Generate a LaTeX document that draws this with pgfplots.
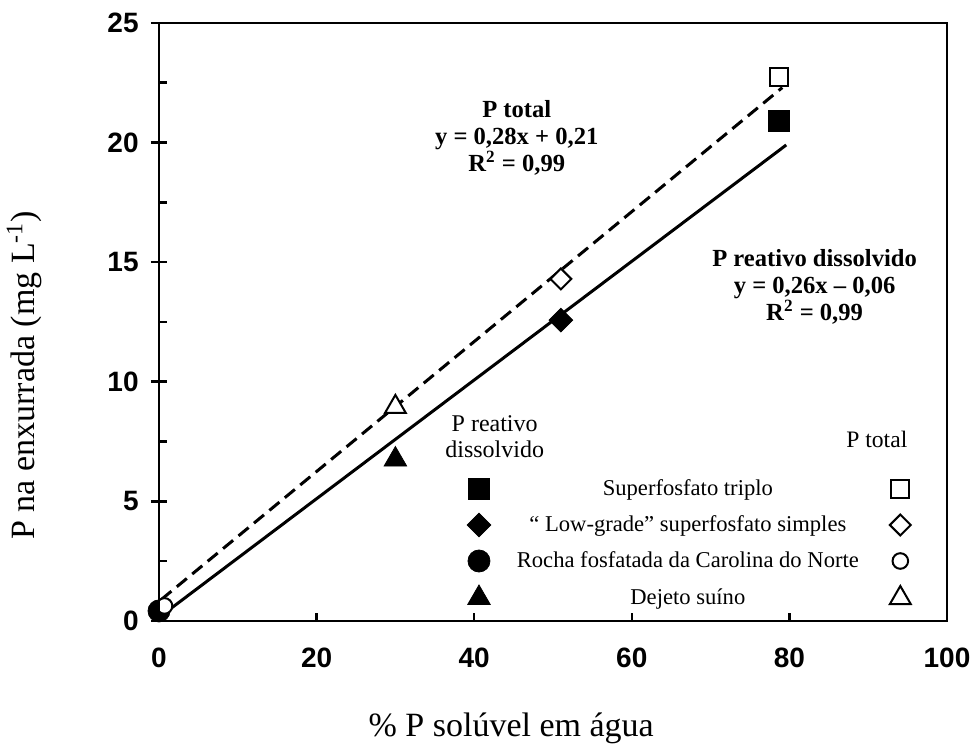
\documentclass[border=0pt]{standalone}
\usepackage{fontspec}
\setmainfont{Liberation Serif}
\setsansfont{Liberation Sans}
\usepackage{pgfplots}
\pgfplotsset{compat=1.18}
\begin{document}
\begin{tikzpicture}
\begin{axis}[
 scale only axis, width=394pt, height=299pt,
 at={(0,0)}, anchor=south west,
 xmin=0, xmax=100, ymin=0, ymax=25,
 xtick={0,20,...,100}, ytick={0,5,...,25},
 minor y tick num=1,
 tick pos=left,
 tick align=inside,
 major tick length=4pt, minor tick length=4pt,
 axis line style={line width=1.35pt},
 tick style={draw=black, line width=1.3pt},
 /pgf/number format/assume math mode=true,
 ticklabel style={font=\sffamily\bfseries\fontsize{14}{16}\selectfont, inner sep=0pt},
 xticklabel style={anchor=base, yshift=-23.5pt},
 yticklabel style={anchor=east, xshift=-10pt},
 xlabel={\% P solúvel em água},
 ylabel={P na enxurrada (mg L\textsuperscript{-1})},
 every axis x label/.style={at={([yshift=-58pt]axis description cs:0.447,0)}, anchor=base, font=\fontsize{17}{19}\selectfont},
 every axis y label/.style={at={([xshift=-62pt]axis description cs:0,0.411)}, rotate=90, anchor=base, font=\fontsize{17}{19}\selectfont},
 legend columns=2,
 legend style={draw=none, fill=none, inner sep=0pt, outer sep=0pt,
   at={(axis cs:39.1,6.02)}, anchor=north west, column sep=0pt, row sep=6pt,
   font=\fontsize{11.3}{13}\selectfont,
   nodes={inner sep=0pt, text height=9pt, text depth=3pt}},
 legend image code/.code={\draw[#1] plot coordinates {(0pt,0pt)};},
]
% trend lines
\addplot[forget plot, line width=1.5pt, black] coordinates {(0.2,0.2) (79.6,19.9)};
\addplot[forget plot, line width=1.5pt, black, dash pattern=on 6.5pt off 3.5pt] coordinates {(0.3,0.9) (79.1,22.3)};
% Superfosfato triplo
\addplot[only marks, mark=square*, mark size=5.3pt, mark options={solid, fill=black, draw=black, line width=0.4pt}] coordinates {(78.7,20.9)};
\addlegendentry{\hspace*{13pt}\makebox[171pt][c]{Superfosfato triplo}\hspace*{15.5pt}}
\addplot[only marks, mark=square*, mark size=4.5pt, mark options={solid, fill=white, draw=black, line width=1pt}] coordinates {(78.7,22.76)};
\addlegendentry{}
% Low-grade
\addplot[only marks, mark=square*, mark size=4.2pt, mark options={solid, rotate=45, fill=black, draw=black, line width=0.4pt}] coordinates {(51.0,12.58)};
\addlegendentry{\hspace*{13pt}\makebox[171pt][c]{“ Low-grade” superfosfato simples}\hspace*{15.5pt}}
\addplot[only marks, mark=square*, mark size=3.7pt, mark options={solid, rotate=45, fill=white, draw=black, line width=1pt}] coordinates {(51.0,14.3)};
\addlegendentry{}
% Rocha
\addplot[only marks, mark=*, mark size=5.5pt, mark options={solid, fill=black, draw=black, line width=0.4pt}] coordinates {(0,0.42)};
\addlegendentry{\hspace*{13pt}\makebox[171pt][c]{Rocha fosfatada da Carolina do Norte}\hspace*{15.5pt}}
\addplot[only marks, mark=*, mark size=3.9pt, mark options={solid, fill=white, draw=black, line width=1pt}] coordinates {(0.7,0.63)};
\addlegendentry{}
% Dejeto
\addplot[only marks, mark=triangle*, mark size=6.5pt, mark options={solid, fill=black, draw=black, line width=0.4pt}] coordinates {(30.0,6.75)};
\addlegendentry{\hspace*{13pt}\makebox[171pt][c]{Dejeto suíno}\hspace*{15.5pt}}
\addplot[only marks, mark=triangle*, mark size=6pt, mark options={solid, fill=white, draw=black, line width=1pt}] coordinates {(30.0,8.95)};
\addlegendentry{}
% annotations
\node[font=\bfseries\fontsize{12.3}{13.5}\selectfont, align=center] at (axis cs:45.4,20.2) {P total\\y = 0,28x + 0,21\\R\textsuperscript{2} = 0,99};
\node[font=\bfseries\fontsize{12.3}{13.5}\selectfont, align=center] at (axis cs:83.2,13.96) {P reativo dissolvido\\y = 0,26x – 0,06\\R\textsuperscript{2} = 0,99};
\node[font=\fontsize{12}{13}\selectfont, align=center] at (axis cs:42.6,7.7) {P reativo\\dissolvido};
\node[font=\fontsize{11.8}{13}\selectfont] at (axis cs:91.1,7.6) {P total};
\end{axis}
% overlay axis: same frame, outward parts of the major y ticks
\begin{axis}[
 scale only axis, width=394pt, height=299pt,
 at={(0,0)}, anchor=south west,
 xmin=0, xmax=100, ymin=0, ymax=25,
 axis line style={line width=1.35pt},
 xtick=\empty, ytick={0,5,...,25}, yticklabels={},
 tick pos=left, tick align=outside,
 major tick length=4pt,
 tick style={draw=black, line width=1.3pt},
]
\end{axis}
\pgfresetboundingbox
\path (-79.5pt,-64pt) rectangle (408pt,310.5pt);
\end{tikzpicture}
\end{document}
